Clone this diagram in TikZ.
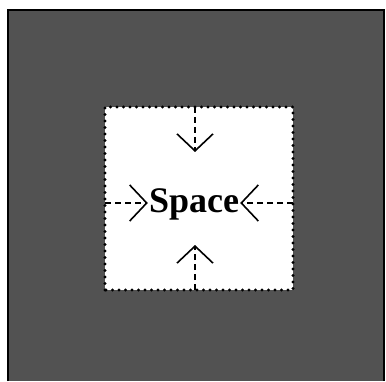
\documentclass[tikz,border=0pt]{standalone}
\usepackage{fontspec}
\setmainfont{Liberation Serif}
\usepackage{tikz}
\usetikzlibrary{positioning,arrows.meta}
\usepackage{xcolor}
\definecolor{screen}{RGB}{82,82,82}

\begin{document}
\begin{tikzpicture}[x=1pt,y=1pt,
    push/.style={line width=1.5pt,dash pattern=on 6pt off 4pt,
        -{Straight Barb[length=17pt,width=36pt,line width=1.6pt]}}]
    \useasboundingbox (0,0) rectangle (386,381);
    % Outer
    \fill[screen] (8,0) rectangle (384,371);
    \draw[line width=1.2pt] (8,0) -- (8,371) -- (384,371) -- (384,0);
    % Inner
    \fill[white] (105,91) rectangle (293,274);
    \draw[line width=3.2pt,line cap=round,dash pattern=on 0pt off 6.5pt]
        (105,91) rectangle (293,274);
    \node[font=\bfseries\fontsize{36}{36}\selectfont,anchor=base,inner sep=1pt]
        (space) at (194,168) {Space};
    \coordinate (lft) at (105,178);
    \coordinate (rgt) at (293,178);
    \coordinate (top) at (195,274);
    \coordinate (bot) at (195,91);
    \coordinate (topend) at (195,229);
    \coordinate (botend) at (195,136);
    \draw[push] (lft) -- (space.west |- lft);
    \draw[push] (rgt) -- (space.east |- rgt);
    \draw[push] (top) -- (topend);
    \draw[push] (bot) -- (botend);
\end{tikzpicture}
\end{document}
